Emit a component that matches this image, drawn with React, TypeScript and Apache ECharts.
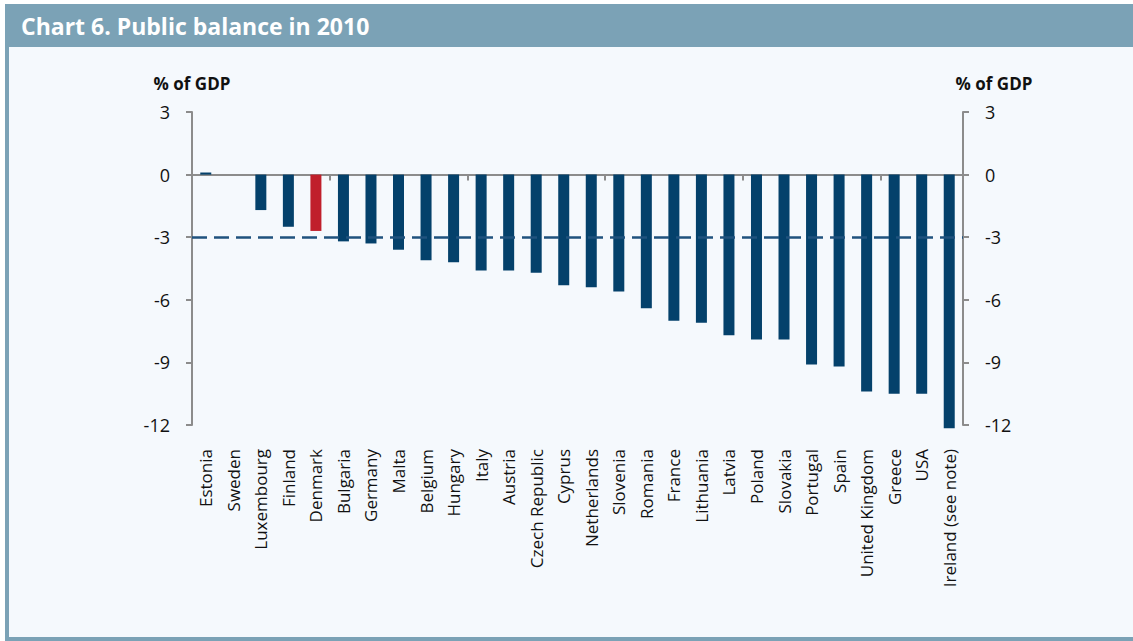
import React, { useEffect, useRef } from "react";
import * as echarts from "echarts";

const titleText = "Chart 6. Public balance in 2010";
const unitLabel = "% of GDP";
const countries = [
  "Estonia", "Sweden", "Luxembourg", "Finland", "Denmark", "Bulgaria", "Germany", "Malta",
  "Belgium", "Hungary", "Italy", "Austria", "Czech Republic", "Cyprus", "Netherlands",
  "Slovenia", "Romania", "France", "Lithuania", "Latvia", "Poland", "Slovakia", "Portugal",
  "Spain", "United Kingdom", "Greece", "USA", "Ireland (see note)",
];
const balance = [
  0.1, 0.0, -1.7, -2.5, -2.7, -3.2, -3.3, -3.6, -4.1, -4.2, -4.6, -4.6, -4.7, -5.3, -5.4,
  -5.6, -6.4, -7.0, -7.1, -7.7, -7.9, -7.9, -9.1, -9.2, -10.4, -10.5, -10.5, -12.15,
];
const highlighted = "Denmark";
const referenceLevel = -3;
const yMin = -12;
const yMax = 3;
const yStep = 3;

const FONT = "'Open Sans', 'Noto Sans', sans-serif";
const BAR = "#04416b";
const RED = "#c01f2b";
const FRAME = "#7ba2b6";
const BG = "#f5f9fd";
const AXIS = "#8c8c8c";

export default function App() {
  const ref = useRef<HTMLDivElement>(null);
  useEffect(() => {
    if (!ref.current) return;
    const chart = echarts.init(ref.current, null, { renderer: "svg" });
    const yAxisCommon = {
      type: "value",
      min: yMin,
      max: yMax,
      interval: yStep,
      splitLine: { show: false },
      axisLine: { show: true, lineStyle: { color: AXIS, width: 2 } },
      axisTick: { show: true, length: 6, lineStyle: { color: AXIS, width: 2 } },
      axisLabel: { color: "#111", fontSize: 18, fontFamily: FONT, margin: 22 },
    };
    chart.setOption({
      animation: false,
      backgroundColor: "#ffffff",
      graphic: [
        {
          type: "rect",
          z: -10,
          shape: { x: 5, y: 4, width: 1128, height: 637 },
          style: { fill: FRAME },
        },
        {
          type: "rect",
          z: -9,
          shape: { x: 9, y: 47, width: 1124, height: 590 },
          style: { fill: BG },
        },
        {
          type: "text",
          x: 21,
          y: 26,
          style: {
            text: titleText,
            fill: "#ffffff",
            font: `bold 23px ${FONT}`,
            textVerticalAlign: "middle",
          },
        },
        {
          type: "text",
          x: 192,
          y: 83,
          style: {
            text: unitLabel,
            fill: "#111",
            font: `bold 17px ${FONT}`,
            textAlign: "center",
            textVerticalAlign: "middle",
          },
        },
        {
          type: "text",
          x: 994,
          y: 83,
          style: {
            text: unitLabel,
            fill: "#111",
            font: `bold 17px ${FONT}`,
            textAlign: "center",
            textVerticalAlign: "middle",
          },
        },
      ],
      grid: { left: 192, right: 170, top: 112, bottom: 216, containLabel: false },
      xAxis: [
        {
          type: "category",
          data: countries,
          axisLine: { onZero: true, lineStyle: { color: AXIS, width: 2 } },
          axisTick: { show: true, length: 6, inside: false, lineStyle: { color: AXIS, width: 2 } },
          axisLabel: { show: false },
        },
        {
          type: "category",
          data: countries,
          position: "bottom",
          axisLine: { show: false, onZero: false },
          axisTick: { show: false },
          axisLabel: {
            show: true,
            rotate: 90,
            interval: 0,
            margin: 24,
            color: "#111",
            fontSize: 17,
            fontFamily: FONT,
          },
        },
      ],
      yAxis: [
        { ...yAxisCommon, position: "left" },
        { ...yAxisCommon, position: "right" },
      ],
      series: [
        {
          type: "bar",
          xAxisIndex: 0,
          yAxisIndex: 0,
          barWidth: 11,
          clip: false,
          data: countries.map((c, i) => ({
            value: balance[i],
            itemStyle: { color: c === highlighted ? RED : BAR },
          })),
          markLine: {
            silent: true,
            symbol: "none",
            label: { show: false },
            lineStyle: { color: "#1f527e", width: 2.5, type: [15, 7] },
            data: [{ yAxis: referenceLevel }],
          },
        },
      ],
    });
    return () => chart.dispose();
  }, []);
  return (
    <div
      ref={ref}
      style={{ position: "fixed", left: 0, top: 0, width: 1133, height: 641 }}
    />
  );
}
